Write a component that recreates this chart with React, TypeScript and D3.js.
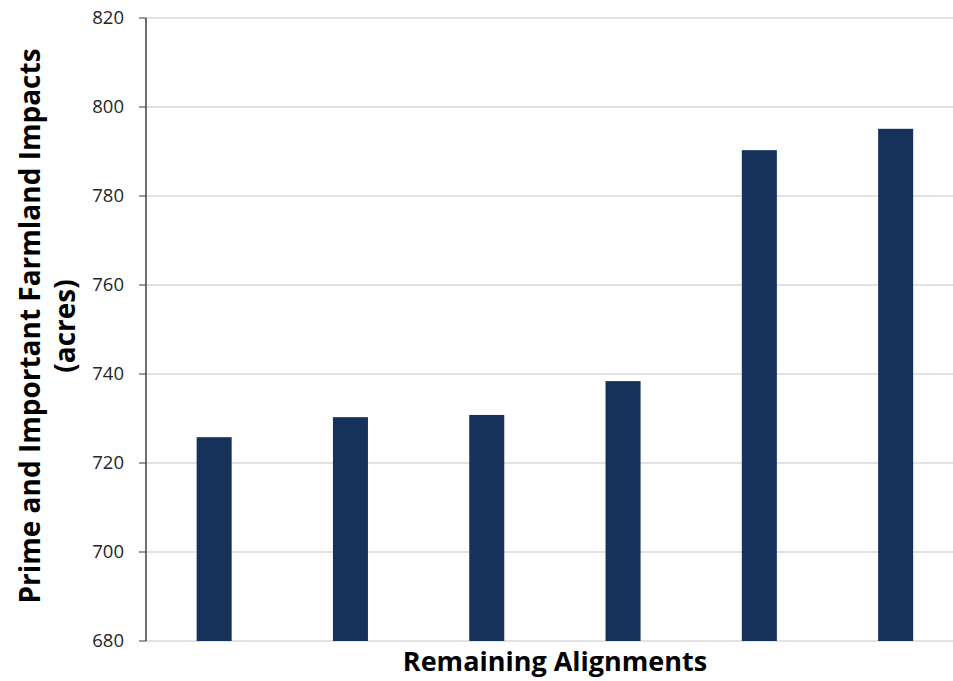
import React from "react";
import * as d3 from "d3";

const categories = ["A1", "A2", "A3", "A4", "A5", "A6"];
const values = [725.8, 730.3, 730.8, 738.4, 790.3, 795.1];
const yTicks = [680, 700, 720, 740, 760, 780, 800, 820];
const yLabelLines = ["Prime and Important Farmland Impacts", "(acres)"];
const xLabel = "Remaining Alignments";

export default function App() {
  const W = 953, H = 681;
  const left = 146, top = 18, bottom = 641;
  const step = 136.3;
  const right = left + step * categories.length;
  const x = d3.scaleBand().domain(categories).range([left, right]).paddingInner(0.743).paddingOuter(0.3715);
  const y = d3.scaleLinear().domain([680, 820]).range([bottom, top]);
  const font = "'Open Sans', 'Noto Sans', sans-serif";
  return (
    <svg width={W} height={H} style={{ position: "absolute", left: 0, top: 0, background: "#fff" }}>
      {yTicks.map((t) => (
        <g key={t}>
          <line x1={left} x2={W} y1={y(t)} y2={y(t)} stroke="#d9d9d9" strokeWidth={1.5} />
          <line x1={139} x2={left} y1={y(t)} y2={y(t)} stroke="#595959" strokeWidth={1.2} />
          <text x={124} y={y(t)} dy="0.35em" textAnchor="end" fontFamily={font} fontSize={18.5} fill="#262626">{t}</text>
        </g>
      ))}
      <line x1={left} x2={left} y1={top} y2={bottom} stroke="#404040" strokeWidth={1.5} />
      {categories.map((c, i) => (
        <rect key={c} x={x(c)!} width={x.bandwidth()} y={y(values[i])} height={bottom - y(values[i])} fill="#16325a" />
      ))}
      <text x={555} y={671} textAnchor="middle" fontFamily={font} fontWeight="bold" fontSize={27} fill="#000">{xLabel}</text>
      <g transform="translate(0,326) rotate(-90)">
        {yLabelLines.map((l, i) => (
          <text key={i} x={0} y={40 + i * 35} textAnchor="middle" fontFamily={font} fontWeight="bold" fontSize={28} fill="#000">{l}</text>
        ))}
      </g>
    </svg>
  );
}
